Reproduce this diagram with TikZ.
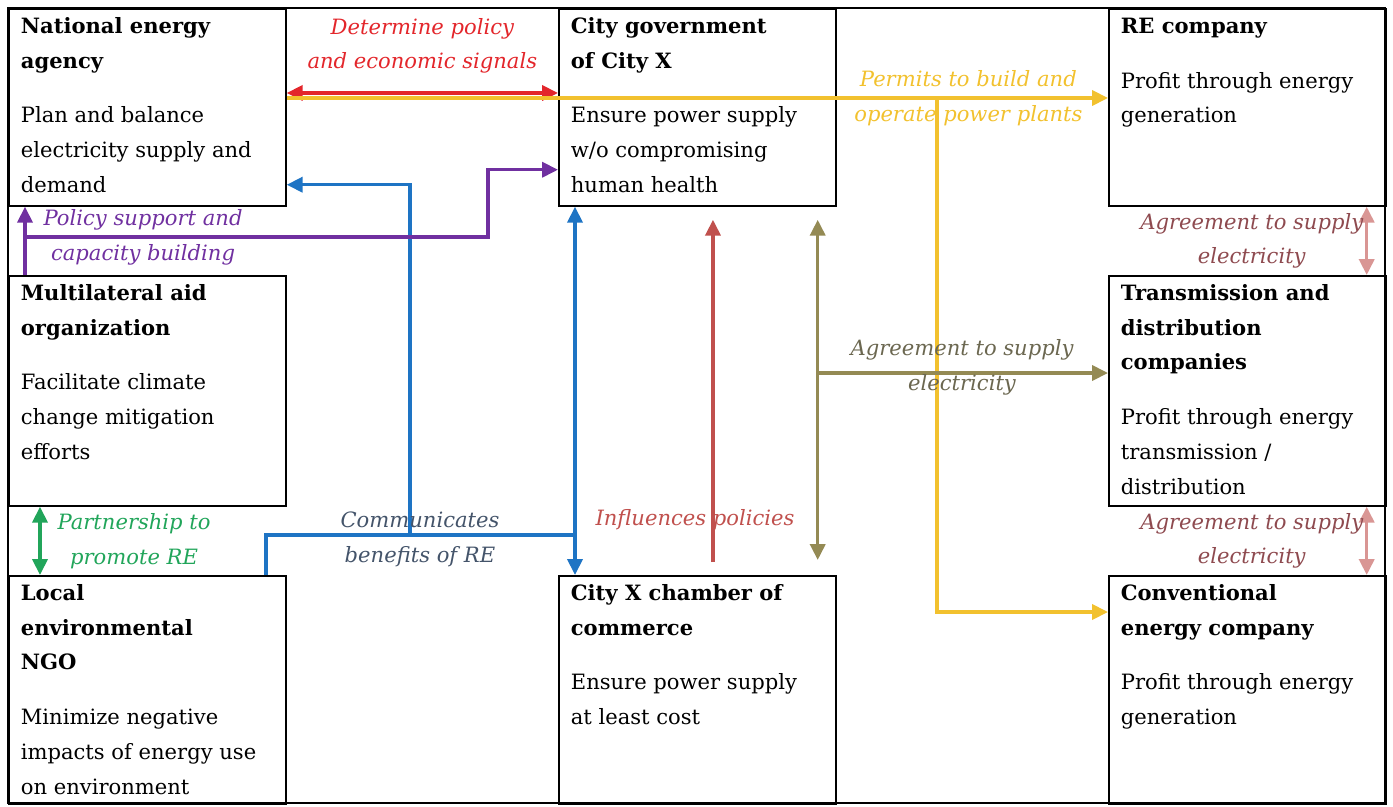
\documentclass[tikz,border=0pt]{standalone}
\usepackage{fontspec}
\setmainfont{DejaVu Serif}
\usetikzlibrary{arrows.meta}

\definecolor{policyred}{HTML}{E3262B}
\definecolor{permityellow}{HTML}{F2C12E}
\definecolor{commblue}{HTML}{1E74C4}
\definecolor{commslate}{HTML}{44546A}
\definecolor{supportpurple}{HTML}{7030A0}
\definecolor{partnergreen}{HTML}{21A55A}
\definecolor{influencered}{HTML}{C0504D}
\definecolor{supplyolive}{HTML}{948A54}
\definecolor{supplytext}{HTML}{6B6750}
\definecolor{supplypink}{HTML}{D99694}
\definecolor{pinktext}{HTML}{8E4A4F}

% box height, name of the actor, its aim
\newcommand{\actor}[3]{\parbox[t][#1][t]{5.06cm}{\raggedright
  \strut\textbf{#2}\par\vspace{11.4pt}#3}}

\tikzset{
  >={Triangle[length=9pt,width=8.5pt]}, % filled arrow heads
  actor/.style={draw, line width=1pt, anchor=north west,
    inner xsep=0.24cm, inner ysep=0pt,
    font=\fontsize{12}{19.8}\selectfont}, % one box per actor
  link/.style={line width=2pt}, % every relation line
  note/.style={font=\fontsize{12}{19.8}\selectfont\itshape,
    align=center, inner sep=0pt}, % text on a relation
}

\begin{document}
\begin{tikzpicture}[x=0.02cm, y=-0.02cm]
    \useasboundingbox (0,0) rectangle (1393,806);
    \draw[line width=1pt] (8,8) rectangle (1385,803);

    \node[actor] (nat_agency) at (8,8) {\actor{3.94cm}{National
    energy\\agency}{Plan and balance\\electricity supply and\\demand}};
    \node[actor] (city_gov) at (558,8) {\actor{3.94cm}{City
    government\\of City X}{Ensure power supply\\w/o
    compromising\\human health}};
    \node[actor] (re_comp) at (1108,8) {\actor{3.94cm}{RE
    company}{Profit through energy\\generation}};
    \node[actor] (multi_aid) at (8,275) {\actor{4.6cm}{Multilateral
    aid\\organization}{Facilitate climate\\change mitigation\\efforts}};
    \node[actor] (td_comp) at (1108,275) {\actor{4.6cm}{Transmission
    and\\distribution\\companies}{Profit through
    energy\\transmission /\\distribution}};
    \node[actor] (local_ngo) at (8,575) {\actor{4.56cm}{Local\\environmental\\NGO}{Minimize
    negative\\impacts of energy use\\on environment}};
    \node[actor] (chamber) at (558,575) {\actor{4.56cm}{City X chamber
    of\\commerce}{Ensure power supply\\at least cost}};
    \node[actor] (conv_comp) at (1108,575) {\actor{4.56cm}{Conventional\\energy
    company}{Profit through energy\\generation}};

    \coordinate (permit_fork) at (937,98);
    \coordinate (comm_join) at (575,535);
    \coordinate (comm_branch) at (410,535);
    \coordinate (support_fork) at (25,237);
    \coordinate (supply_fork) at (816,373);

    \draw[link, policyred, <->] ([yshift=-1.7cm]nat_agency.north east)
    -- ([yshift=-1.7cm]city_gov.north west) node[note, midway,
    above=10pt] (policy_lbl) {Determine policy\\and economic signals};

    \draw[link, permityellow, ->] ([yshift=-1.8cm]nat_agency.north east)
    -- ([yshift=-1.8cm]re_comp.north west) node[note, pos=0.83]
    (permit_lbl) {Permits to build and\\operate power plants};
    \draw[link, permityellow, ->] (permit_fork)
    |- ([yshift=-0.74cm]conv_comp.north west);

    \draw[link, commblue, <->] ([xshift=0.34cm]city_gov.south west)
    -- ([xshift=0.34cm]chamber.north west);
    \draw[link, commblue] ([xshift=5.16cm]local_ngo.north west)
    |- (comm_join);
    \draw[link, commblue, ->] (comm_branch)
    |- ([yshift=0.44cm]nat_agency.south east);
    \node[note, text=commslate] (comm_lbl) at (420,539)
    {Communicates\\benefits of RE};

    \draw[link, supportpurple, ->] ([xshift=0.34cm]multi_aid.north west)
    -- ([xshift=0.34cm]nat_agency.south west);
    \draw[link, supportpurple, ->] (support_fork) -- node[note, pos=0.255]
    (support_lbl) {Policy support and\\capacity building} ++(463,0)
    |- ([yshift=0.74cm]city_gov.south west);

    \draw[link, partnergreen, <->] ([xshift=0.64cm]multi_aid.south west)
    -- ([xshift=0.64cm]local_ngo.north west) node[note, midway,
    right=9pt] (partner_lbl) {Partnership to\\promote RE};

    \draw[link, influencered, ->, shorten <=0.26cm, shorten >=0.26cm]
    ([xshift=3.1cm]chamber.north west) -- ([xshift=3.1cm]city_gov.south west)
    node[note, pos=0.15, xshift=-0.36cm] (influence_lbl) {Influences policies};

    \draw[link, supplyolive, <->, shorten <=0.26cm, shorten >=0.3cm]
    ([xshift=-0.38cm]city_gov.south east)
    -- ([xshift=-0.38cm]chamber.north east);
    \draw[link, supplyolive, ->] (supply_fork) -- (supply_fork -| td_comp.west)
    node[note, midway, yshift=3.4pt, text=supplytext] (supply_lbl)
    {Agreement to supply\\electricity};

    \draw[link, supplypink, <->] ([xshift=-0.4cm]re_comp.south east)
    -- ([xshift=-0.4cm]td_comp.north east) node[note, midway, left=1pt,
    text=pinktext] (re_td_lbl) {Agreement to supply\\electricity};
    \draw[link, supplypink, <->] ([xshift=-0.4cm]td_comp.south east)
    -- ([xshift=-0.4cm]conv_comp.north east) node[note, midway, left=1pt,
    text=pinktext] (td_conv_lbl) {Agreement to supply\\electricity};
\end{tikzpicture}
\end{document}
